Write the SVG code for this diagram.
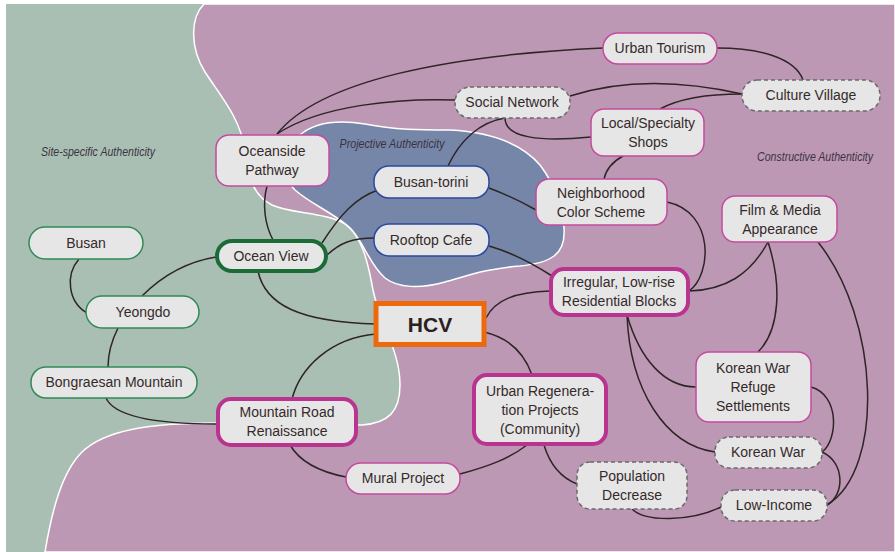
<svg xmlns="http://www.w3.org/2000/svg" width="895" height="552" viewBox="0 0 895 552">
<style>
.t{font-family:"Liberation Sans",Arial,sans-serif;font-size:14px;fill:#352a2a;text-anchor:middle}
.lab{font-family:"Liberation Sans",Arial,sans-serif;font-size:12px;font-style:italic;fill:#3a3340;text-anchor:middle}
.n{fill:#e6e6e6}
.g{stroke:#2f8a55;stroke-width:1.5}
.gk{stroke:#1b6b36;stroke-width:4}
.p{stroke:#c54a9f;stroke-width:1.5}
.pk{stroke:#b8348e;stroke-width:4}
.b{stroke:#2b48a0;stroke-width:1.5}
.d{stroke:#6a6a6a;stroke-width:1.5;stroke-dasharray:4 3}
#connectors path{fill:none;stroke:#2e2525;stroke-width:1.5}
</style>
<rect width="895" height="552" fill="#ffffff"/>
<rect x="6" y="4" width="889" height="548" fill="#aabfb4"/>
<path d="M 204,4 C 190,18 190,48 205,72 C 222,98 240,118 245,150 C 248,175 252,195 272,205 C 292,214 325,212 345,224 C 362,236 368,262 373,290 C 380,325 400,350 400,385 C 400,412 388,423 362,425 L 215,423 C 150,423 105,430 82,452 C 62,472 52,510 45,552 L 895,552 L 895,4 Z" fill="#bd98b5" stroke="#ffffff" stroke-width="1.5"/>
<path d="M 300,135 C 315,122 340,120 365,124 C 395,130 420,130 450,130 C 490,132 520,142 540,165 C 555,185 562,205 564,228 C 566,255 550,263 520,266 C 490,268 470,275 445,282 C 420,289 398,288 385,278 C 370,265 365,245 352,230 C 338,215 312,205 295,190 C 280,175 285,150 300,135 Z" fill="#7686a9" stroke="#ffffff" stroke-width="1.5"/>
<text class="lab" x="98" y="156" textLength="114" lengthAdjust="spacingAndGlyphs">Site-specific Authenticity</text>
<text class="lab" x="392" y="148" textLength="105" lengthAdjust="spacingAndGlyphs">Projective Authenticity</text>
<text class="lab" x="815" y="161" textLength="116" lengthAdjust="spacingAndGlyphs">Constructive Authenticity</text>
<g id="connectors">
<path d="M 277,134 C 320,80 450,55 603,48"/>
<path d="M 277,134 C 320,105 400,98 455,100"/>
<path d="M 267,186 C 262,205 265,225 273,240"/>
<path d="M 322,243 C 340,215 355,198 378,190"/>
<path d="M 327,255 C 340,243 352,238 374,238"/>
<path d="M 216,257 C 185,262 160,278 142,296"/>
<path d="M 258,271 C 265,305 300,322 376,324"/>
<path d="M 79,259 C 65,275 68,302 87,313"/>
<path d="M 118,328 C 112,340 108,352 108,367"/>
<path d="M 106,398 C 115,418 160,424 217,424"/>
<path d="M 292,399 C 300,368 330,338 376,334"/>
<path d="M 290,445 C 300,462 320,472 346,477"/>
<path d="M 460,474 C 490,466 510,458 527,445"/>
<path d="M 484,332 C 510,338 525,355 532,375"/>
<path d="M 486,318 C 495,300 515,292 550,291"/>
<path d="M 489,246 C 510,252 535,265 552,276"/>
<path d="M 489,188 C 505,194 522,202 536,210"/>
<path d="M 448,166 C 460,140 480,122 505,118"/>
<path d="M 505,118 C 505,138 540,142 591,137"/>
<path d="M 570,96 C 620,80 680,80 742,94"/>
<path d="M 660,109 C 680,98 710,94 742,94"/>
<path d="M 717,48 C 760,48 795,58 803,80"/>
<path d="M 623,156 C 612,162 606,170 604,179"/>
<path d="M 667,202 C 715,212 712,275 689,291"/>
<path d="M 768,242 C 750,275 725,290 689,291"/>
<path d="M 768,242 C 782,285 780,330 758,352"/>
<path d="M 818,242 C 880,320 885,470 827,505"/>
<path d="M 627,315 C 640,360 665,387 696,387"/>
<path d="M 627,315 C 630,390 665,445 715,452"/>
<path d="M 811,387 C 840,395 838,440 822,452"/>
<path d="M 822,452 C 845,462 845,495 827,505"/>
<path d="M 632,509 C 645,522 690,522 721,507"/>
<path d="M 544,445 C 550,465 562,478 577,484"/>
</g>
<g id="n-urban-tourism"><rect class="n p" x="603" y="33" width="114" height="31" rx="15"/><text class="t" x="660" y="53">Urban Tourism</text></g>
<g id="n-culture-village"><rect class="n d" x="742" y="80" width="138" height="31" rx="15"/><text class="t" x="811" y="100">Culture Village</text></g>
<g id="n-social-network"><rect class="n d" x="455" y="87" width="115" height="31" rx="15"/><text class="t" x="512" y="107">Social Network</text></g>
<g id="n-local-shops"><rect class="n p" x="591" y="109" width="113" height="47" rx="13"/><text class="t" x="648" y="128">Local/Specialty</text><text class="t" x="648" y="147">Shops</text></g>
<g id="n-neighborhood"><rect class="n p" x="536" y="179" width="131" height="46" rx="13"/><text class="t" x="601" y="198">Neighborhood</text><text class="t" x="601" y="217">Color Scheme</text></g>
<g id="n-film-media"><rect class="n p" x="722" y="196" width="115" height="46" rx="13"/><text class="t" x="780" y="215">Film &amp; Media</text><text class="t" x="780" y="234">Appearance</text></g>
<g id="n-oceanside"><rect class="n p" x="216" y="135" width="113" height="51" rx="13"/><text class="t" x="272" y="156">Oceanside</text><text class="t" x="272" y="175">Pathway</text></g>
<g id="n-busan-torini"><rect class="n b" x="374" y="166" width="115" height="32" rx="15"/><text class="t" x="431" y="187">Busan-torini</text></g>
<g id="n-rooftop-cafe"><rect class="n b" x="374" y="224" width="115" height="32" rx="15"/><text class="t" x="431" y="245">Rooftop Cafe</text></g>
<g id="n-ocean-view"><rect class="n gk" x="217" y="241" width="109" height="30" rx="15"/><text class="t" x="271" y="261">Ocean View</text></g>
<g id="n-busan"><rect class="n g" x="29" y="227" width="114" height="32" rx="16"/><text class="t" x="86" y="248">Busan</text></g>
<g id="n-yeongdo"><rect class="n g" x="86" y="296" width="113" height="32" rx="16"/><text class="t" x="143" y="317">Yeongdo</text></g>
<g id="n-bongraesan"><rect class="n g" x="31" y="367" width="166" height="31" rx="15"/><text class="t" x="114" y="387">Bongraesan Mountain</text></g>
<g id="n-mountain-road"><rect class="n pk" x="218" y="399" width="138" height="46" rx="13"/><text class="t" x="287" y="417">Mountain Road</text><text class="t" x="287" y="436">Renaissance</text></g>
<g id="n-mural"><rect class="n p" x="346" y="463" width="114" height="31" rx="15"/><text class="t" x="403" y="483">Mural Project</text></g>
<g id="n-irregular"><rect class="n pk" x="551" y="269" width="137" height="46" rx="13"/><text class="t" x="619" y="287">Irregular, Low-rise</text><text class="t" x="619" y="306">Residential Blocks</text></g>
<g id="n-urban-regeneration"><rect class="n pk" x="474" y="375" width="132" height="69" rx="13"/><text class="t" x="540" y="396">Urban Regenera-</text><text class="t" x="540" y="415">tion Projects</text><text class="t" x="540" y="434">(Community)</text></g>
<g id="n-refuge"><rect class="n p" x="696" y="352" width="115" height="70" rx="13"/><text class="t" x="753" y="373">Korean War</text><text class="t" x="753" y="392">Refuge</text><text class="t" x="753" y="411">Settlements</text></g>
<g id="n-korean-war"><rect class="n d" x="715" y="437" width="107" height="31" rx="14"/><text class="t" x="768" y="457">Korean War</text></g>
<g id="n-population"><rect class="n d" x="577" y="462" width="110" height="47" rx="13"/><text class="t" x="632" y="481">Population</text><text class="t" x="632" y="500">Decrease</text></g>
<g id="n-low-income"><rect class="n d" x="721" y="490" width="106" height="31" rx="14"/><text class="t" x="774" y="510">Low-Income</text></g>
<g id="n-hcv"><rect fill="#e6e6e6" stroke="#ec6a0c" stroke-width="5" x="376" y="303.5" width="108" height="41"/><text x="430" y="332" text-anchor="middle" font-family="Liberation Sans,Arial,sans-serif" font-size="21" font-weight="bold" fill="#2a2020">HCV</text></g>
</svg>
